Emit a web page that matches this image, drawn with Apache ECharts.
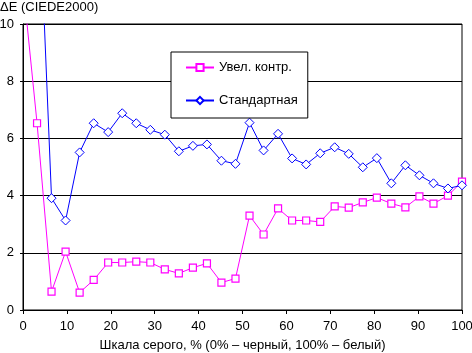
<!DOCTYPE html>
<html>
<head>
<meta charset="utf-8">
<script src="https://cdn.jsdelivr.net/npm/echarts@6/dist/echarts.min.js"></script>
<style>
  html, body { margin: 0; padding: 0; background: #fff; }
  #chart { width: 472px; height: 353px; }
</style>
</head>
<body>
<div id="chart"></div>
<script>
// шкала серого, %
const greyLevels = [0, 3.2, 6.5, 9.7, 12.9, 16.1, 19.4, 22.6, 25.8, 29.0, 32.3, 35.5, 38.7, 41.9, 45.2, 48.4,
  51.6, 54.8, 58.1, 61.3, 64.5, 67.7, 71.0, 74.2, 77.4, 80.6, 83.9, 87.1, 90.3, 93.5, 96.8, 100]
// Увел. контр.
const contrastValues = [11.4, 6.53, 0.64, 2.04, 0.61, 1.05, 1.66, 1.66, 1.69, 1.66, 1.42, 1.28, 1.48, 1.63, 0.96, 1.10,
  3.30, 2.64, 3.55, 3.13, 3.13, 3.08, 3.62, 3.58, 3.76, 3.93, 3.72, 3.59, 3.97, 3.72, 4.00, 4.49]
// Стандартная
const standardValues = [22, 16.2, 3.91, 3.13, 5.51, 6.53, 6.22, 6.88, 6.53, 6.30, 6.13, 5.55, 5.74, 5.79, 5.22, 5.11,
  6.55, 5.58, 6.16, 5.30, 5.09, 5.48, 5.69, 5.46, 4.99, 5.31, 4.43, 5.06, 4.71, 4.43, 4.25, 4.36]
const seriesNames = ['Увел. контр.', 'Стандартная']

const font = 'Liberation Sans, Arial, sans-serif'
const pairs = (ys) => greyLevels.map((x, i) => [x, ys[i]])

let myChart = echarts.init(document.getElementById('chart'))

let options = {
  animation: false,
  title: {
    text: 'ΔE (CIEDE2000)',
    left: 0,
    top: 1,
    padding: 0,
    textStyle: { fontFamily: font, fontSize: 13, fontWeight: 'normal', color: '#000' }
  },
  grid: {
    left: 23,
    right: 10,
    top: 24,
    bottom: 43,
    containLabel: false,
    outerBoundsMode: 'none',
    show: true,
    borderColor: '#000',
    borderWidth: 1
  },
  legend: {
    data: seriesNames,
    orient: 'vertical',
    left: 171,
    top: 52,
    padding: [9, 10, 11, 14],
    itemGap: 20,
    itemWidth: 28,
    itemHeight: 9,
    backgroundColor: '#fff',
    borderColor: '#000',
    borderWidth: 1,
    textStyle: { fontFamily: font, fontSize: 13, color: '#000' }
  },
  xAxis: {
    type: 'value',
    min: 0,
    max: 100,
    interval: 10,
    name: 'Шкала серого, % (0% – черный, 100% – белый)',
    nameLocation: 'middle',
    nameGap: 29,
    nameTextStyle: { fontFamily: font, fontSize: 13, color: '#000' },
    axisLine: { lineStyle: { color: '#000', width: 1 } },
    axisTick: { show: true, length: 4, lineStyle: { color: '#000' } },
    axisLabel: { margin: 10, fontFamily: font, fontSize: 13, color: '#000' },
    splitLine: { show: false }
  },
  yAxis: {
    type: 'value',
    min: 0,
    max: 10,
    interval: 2,
    axisLine: { show: true, lineStyle: { color: '#000', width: 1 } },
    axisTick: { show: true, length: 3, lineStyle: { color: '#000' } },
    axisLabel: { margin: 9, fontFamily: font, fontSize: 13, color: '#000' },
    splitLine: { show: true, lineStyle: { color: '#000', width: 1 } }
  },
  series: [
    {
      name: seriesNames[0],
      type: 'line',
      data: pairs(contrastValues),
      clip: true,
      symbol: 'rect',
      symbolSize: 7,
      lineStyle: { color: '#ff00ff', width: 1 },
      itemStyle: { color: '#fff', borderColor: '#ff00ff', borderWidth: 1.2 }
    },
    {
      name: seriesNames[1],
      type: 'line',
      data: pairs(standardValues),
      clip: true,
      symbol: 'diamond',
      symbolSize: 9,
      lineStyle: { color: '#0000ff', width: 1 },
      itemStyle: { color: '#fff', borderColor: '#0000ff', borderWidth: 1 }
    }
  ]
}

myChart.setOption(options)
</script>
</body>
</html>
